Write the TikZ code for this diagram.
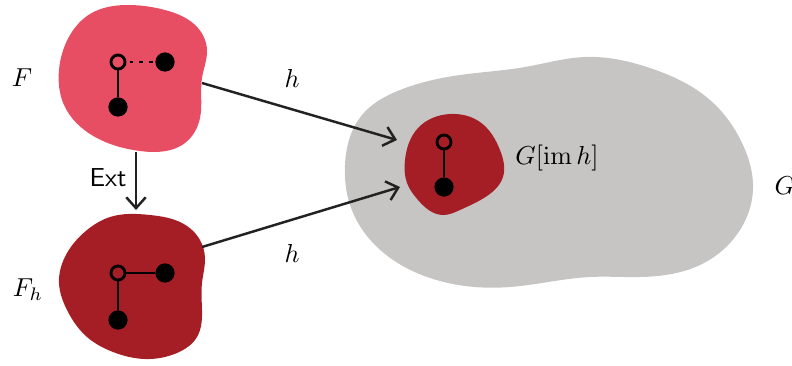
\documentclass[tikz,border=0pt]{standalone}
\usetikzlibrary{arrows.meta,hobby}
\definecolor{pinkF}{HTML}{E84E63}
\definecolor{redF}{HTML}{A61E25}
\definecolor{grayG}{HTML}{C6C5C4}
\definecolor{ink}{HTML}{222222}
\begin{document}
\begin{tikzpicture}[x=0.385pt,y=-0.385pt,
  opendot/.style={circle,draw=black,line width=1.1pt,inner sep=0pt,minimum size=5.4pt},
  fulldot/.style={circle,fill=black,inner sep=0pt,minimum size=7.4pt},
  gedge/.style={line width=1.1pt,black},
  mapto/.style={line width=0.95pt,ink,-{Straight Barb[length=4.2pt,width=7.5pt,line width=0.95pt]}},
  blob/.style={use Hobby shortcut,closed=true},
  lbl/.style={inner sep=0pt}]
\useasboundingbox (0,0) rectangle (792,365);
% blobs
\fill[pinkF,blob] (90,14) .. (130,5) .. (165,10) .. (198,28) .. (207,50) .. (202,78) .. (200,118) .. (185,143) .. (140,151) .. (95,137) .. (64,105) .. (59,70) .. (70,35);
\fill[redF,blob] (110,217) .. (150,215) .. (182,223) .. (200,240) .. (205,258) .. (202,283) .. (202,310) .. (197,337) .. (177,353) .. (145,359) .. (113,352) .. (87,337) .. (67,310) .. (59,283) .. (67,253) .. (87,230);
\fill[grayG,blob] (345,165) .. (362,115) .. (400,90) .. (460,75) .. (525,67) .. (585,57) .. (650,68) .. (710,100) .. (743,145) .. (753,190) .. (738,233) .. (700,265) .. (640,277) .. (590,277) .. (510,287) .. (430,278) .. (375,245) .. (350,205);
\fill[redF,blob] (405,160) .. (418,128) .. (450,114) .. (480,122) .. (500,150) .. (503,177) .. (487,196) .. (460,210) .. (443,215) .. (418,200) .. (407,183);
% anchor coordinates for blobs
\coordinate (Fout) at (202,83);
\coordinate (Fbot) at (136,152);
\coordinate (Fhtop) at (136,210);
\coordinate (Fhout) at (202,247);
\coordinate (Gin1) at (397,140);
\coordinate (Gin2) at (400,187);
% graph F
\node[opendot] (f0) at (118,62) {};
\node[fulldot] (f1) at (165,62) {};
\node[fulldot] (f2) at (118,107) {};
\draw[gedge,dash pattern=on 1.5pt off 2.2pt,dash phase=-1.2pt] (f0) -- (f1);
\draw[gedge] (f0) -- (f2);
% graph Fh
\node[opendot] (h0) at (118,273) {};
\node[fulldot] (h1) at (165,273) {};
\node[fulldot] (h2) at (118,320) {};
\draw[gedge] (h0) -- (h1);
\draw[gedge] (h0) -- (h2);
% graph in G
\node[opendot] (g0) at (444,142) {};
\node[fulldot] (g1) at (444,187) {};
\draw[gedge] (g0) -- (g1);
% arrows
\draw[mapto] (Fout) -- (Gin1);
\draw[mapto] (Fhout) -- (Gin2);
\draw[mapto] (Fbot) -- (Fhtop);
% labels
\node[lbl] (lF) at (22,78) {$F$};
\node[lbl] (lFh) at (28,290) {$F_h$};
\node[lbl] (lh1) at (292,78) {$h$};
\node[lbl] (lh2) at (292,253) {$h$};
\node[lbl] (lExt) at (108,178) {\sffamily Ext};
\node[lbl] (lGim) at (557,158) {$G[\mathop{\mathrm{im}} h]$};
\node[lbl,anchor=west] (lG) at (774,186) {$G$};
\end{tikzpicture}
\end{document}
